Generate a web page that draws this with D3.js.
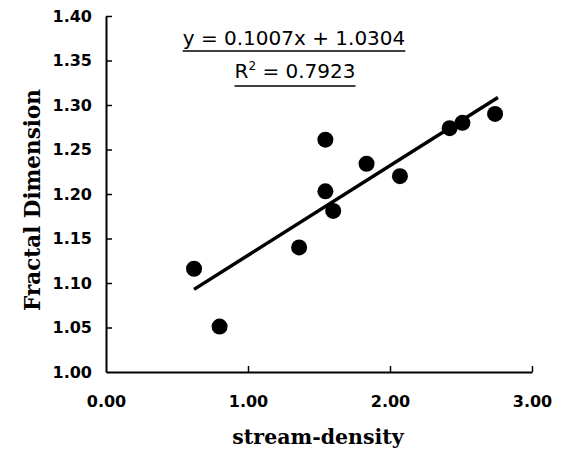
<!DOCTYPE html>
<html><head><meta charset="utf-8">
<script src="https://cdn.jsdelivr.net/npm/d3@7"></script>
<style>body{margin:0;background:#fff}</style>
</head><body>
<svg id="c" width="563" height="454"></svg>
<script>
const densities = [0.62, 0.80, 1.36, 1.545, 1.545, 1.60, 1.835, 2.07, 2.42, 2.51, 2.74];
const fractalDims = [1.116, 1.051, 1.140, 1.261, 1.203, 1.181, 1.234, 1.220, 1.274, 1.280, 1.290];
const xTicks = [0, 1, 2, 3];
const yTicks = [1.00, 1.05, 1.10, 1.15, 1.20, 1.25, 1.30, 1.35, 1.40];
const slope = 0.1007, intercept = 1.0304, r2 = "0.7923";
const trendRange = [0.62, 2.76];

const svg = d3.select("#c");
const x = d3.scaleLinear().domain([0, 3]).range([106, 532]);
const y = d3.scaleLinear().domain([1.0, 1.4]).range([372, 16]);

const tickFont = "'DejaVu Sans', sans-serif";
const xAxis = d3.axisBottom(x).tickValues(xTicks).tickFormat(d3.format(".2f")).tickSizeInner(-6).tickSizeOuter(0).tickPadding(24);
const gx = svg.append("g").attr("transform", `translate(0,${y(1.0)})`).call(xAxis);
const yAxis = d3.axisLeft(y).tickValues(yTicks).tickFormat(d3.format(".2f")).tickSizeInner(-6).tickSizeOuter(0).tickPadding(14);
const gy = svg.append("g").attr("transform", `translate(${x(0)},0)`).call(yAxis);
[gx, gy].forEach(g => {
  g.select(".domain").attr("stroke", "#000").attr("stroke-width", 2);
  g.selectAll(".tick line").attr("stroke", "#000").attr("stroke-width", 1.5);
  g.selectAll(".tick text").attr("fill", "#000").style("font-family", tickFont).style("font-weight", "bold").style("font-size", "16px");
});
gx.selectAll(".tick").filter(d => d === 0).select("line").remove();
gy.selectAll(".tick").filter(d => d === 1.0).select("line").remove();

// trend line
svg.append("line")
  .attr("x1", x(trendRange[0])).attr("y1", y(slope * trendRange[0] + intercept))
  .attr("x2", x(trendRange[1])).attr("y2", y(slope * trendRange[1] + intercept))
  .attr("stroke", "#000").attr("stroke-width", 3.5);

// points
svg.append("g").selectAll("circle").data(densities.map((d, i) => [d, fractalDims[i]]))
  .join("circle").attr("cx", d => x(d[0])).attr("cy", d => y(d[1])).attr("r", 8).attr("fill", "#000");

// equation
const eq = svg.append("g").style("font-family", "'DejaVu Sans', sans-serif").style("font-size", "20px");
const t1 = eq.append("text").attr("x", 294).attr("y", 45).attr("text-anchor", "middle")
  .text(`y = ${slope}x + ${intercept}`);
const t2 = eq.append("text").attr("x", 295).attr("y", 78).attr("text-anchor", "middle");
t2.append("tspan").text("R");
t2.append("tspan").attr("dy", -8).style("font-size", "12px").text("2");
t2.append("tspan").attr("dy", 8).text(` = ${r2}`);
[[t1, 51], [t2, 86]].forEach(([t, uy]) => {
  const b = t.node().getBBox();
  eq.append("line").attr("x1", b.x).attr("x2", b.x + b.width).attr("y1", uy).attr("y2", uy)
    .attr("stroke", "#000").attr("stroke-width", 1.5);
});

// axis titles
svg.append("text").attr("x", 318).attr("y", 444).attr("text-anchor", "middle")
  .style("font-family", "'DejaVu Serif', serif").style("font-weight", "bold").style("font-size", "20.5px").text("stream-density");
svg.append("text").attr("transform", "translate(40,200) rotate(-90)").attr("text-anchor", "middle")
  .style("font-family", "'DejaVu Serif', serif").style("font-weight", "bold").style("font-size", "21.5px").text("Fractal Dimension");
</script>
</body></html>
